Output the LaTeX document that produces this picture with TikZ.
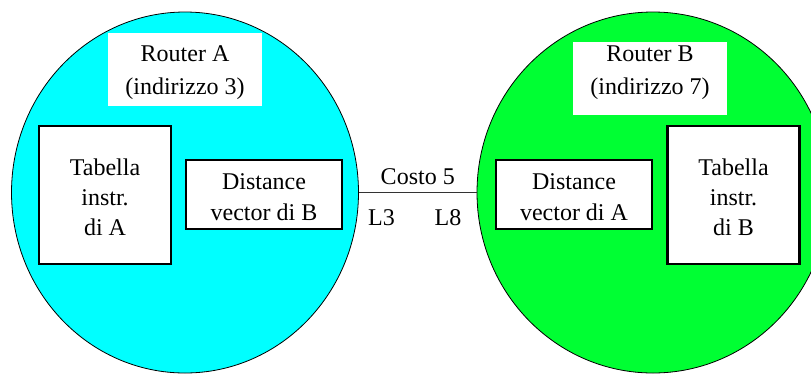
\documentclass[tikz,border=0pt]{standalone}
\usepackage{fontspec}
\setmainfont{Liberation Serif}
\usetikzlibrary{positioning,shapes.geometric}
\definecolor{routercyan}{HTML}{00FFFF}
\definecolor{routergreen}{HTML}{00FF33}
\tikzset{
  router/.style={
    ellipse,
    draw=black,
    line width=0.8pt,
    inner sep=0pt,
    minimum width=347pt,
    minimum height=361pt
  },
  titlebox/.style={fill=white, inner sep=0pt, minimum width=154pt, minimum height=73pt},
  titletext/.style={align=center, inner sep=0pt},
  tablebox/.style={
    draw=black,
    line width=2.2pt,
    fill=white,
    align=center,
    minimum width=132pt,
    minimum height=138pt
  },
  vectorbox/.style={
    draw=black,
    line width=2.2pt,
    fill=white,
    align=center,
    minimum width=156pt,
    minimum height=69pt
  },
  portlabel/.style={inner sep=0pt},
  linkline/.style={draw=black!80, line width=0.9pt}
}

\begin{document}
\begin{tikzpicture}[x=1pt, y=-1pt, font=\fontsize{24}{30}\selectfont]
\useasboundingbox (0,0) rectangle (811,373);
\clip (0,0) rectangle (811,373);

% routers
\node[router, fill=routercyan] (routerA) at (185,192.5) {};
\node[router, fill=routergreen, minimum width=352pt] (routerB) at (653,192.5) {};

% router names
\node[titlebox] (boxA) at (185,69.5) {};
\node[titletext] (titleA) at (185,73) {Router A\\[3pt](indirizzo 3)};
\node[titlebox] (boxB) at (650,78.5) {};
\node[titletext] (titleB) at (650,73) {Router B\\[3pt](indirizzo 7)};

% tables and vectors
\node[tablebox] (tableA) at (105,195) {};
\node[titletext] (textA) at (105,197) {Tabella\\instr.\\di A};
\node[vectorbox] (vectorB) at (264,194.5) {};
\node[titletext] (textVB) at (264,197) {Distance\\[1pt]vector di B};
\node[vectorbox] (vectorA) at (574,194.5) {};
\node[titletext] (textVA) at (574,197) {Distance\\[1pt]vector di A};
\node[tablebox] (tableB) at (733.5,195) {};
\node[titletext] (textB) at (733.5,197) {Tabella\\instr.\\di B};

% link
\draw[linkline] (routerA.east) -- node[above=4pt] (cost) {Costo 5} (routerB.west);
\node[portlabel, below right=17pt and 9pt of routerA.east] (portA) {L3};
\node[portlabel, below left=17pt and 15pt of routerB.west] (portB) {L8};
\end{tikzpicture}
\end{document}
